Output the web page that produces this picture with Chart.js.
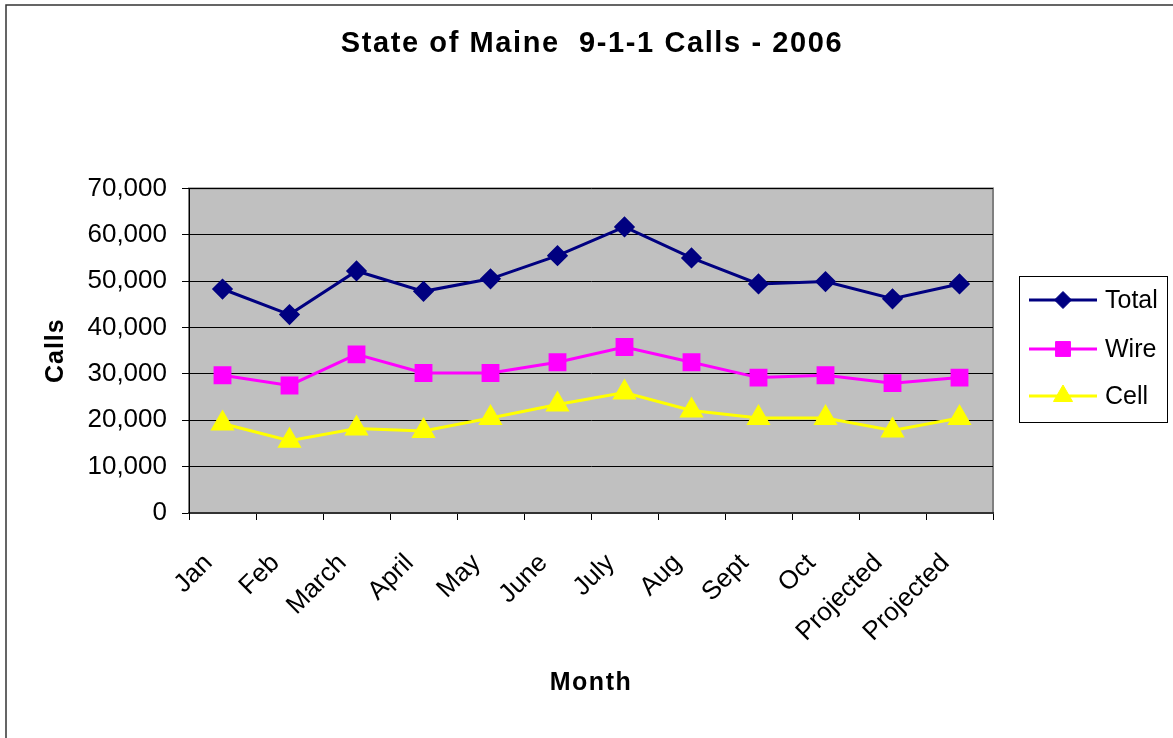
<!DOCTYPE html>
<html><head><meta charset="utf-8">
<script src="https://cdn.jsdelivr.net/npm/chart.js@4.4.1/dist/chart.umd.min.js"></script>
<style>html,body{margin:0;padding:0;background:#fff;overflow:hidden}</style>
</head><body>
<canvas id="c" width="1173" height="738"></canvas>
<script>
const months = ['Jan','Feb','March','April','May','June','July','Aug','Sept','Oct','Projected','Projected'];
const totalCalls = [48300, 42800, 52200, 47800, 50500, 55500, 61700, 55000, 49400, 49900, 46200, 49400];
const wireCalls  = [29700, 27500, 34200, 30200, 30200, 32500, 35800, 32500, 29200, 29700, 28000, 29200];
const cellCalls  = [19300, 15600, 18200, 17700, 20500, 23400, 26000, 22100, 20500, 20500, 17800, 20500];
const seriesNames = ['Total','Wire','Cell'];
const chartTitle = 'State of Maine  9-1-1 Calls - 2006';
const xTitle = 'Month';
const yTitle = 'Calls';

const FONT = '"Liberation Sans", Arial, Helvetica, sans-serif';

function spaced(fn, ctx, sp) {
  return function() { ctx.save(); try { ctx.letterSpacing = sp; } catch(e) {} const r = fn.apply(this, arguments); ctx.restore(); return r; };
}

const decorPlugin = {
  id: 'decor',
  beforeDraw(chart) {
    const ctx = chart.ctx, a = chart.chartArea;
    ctx.save();
    ctx.fillStyle = '#fff';
    ctx.fillRect(0, 0, chart.width, chart.height);
    ctx.strokeStyle = '#333';
    ctx.lineWidth = 1.5;
    ctx.beginPath();
    ctx.moveTo(6, chart.height); ctx.lineTo(6, 5); ctx.lineTo(chart.width, 5);
    ctx.stroke();
    ctx.fillStyle = '#C0C0C0';
    ctx.fillRect(a.left, a.top, a.right - a.left, a.bottom - a.top);
    ctx.strokeStyle = '#808080';
    ctx.lineWidth = 2;
    ctx.strokeRect(a.left, a.top, a.right - a.left, a.bottom - a.top);
    ctx.restore();
    if (chart.titleBlock && !chart.titleBlock._sp) {
      chart.titleBlock.draw = spaced(chart.titleBlock.draw, ctx, '1.6px');
      chart.titleBlock._sp = true;
    }
    const sx = chart.scales.x, sy = chart.scales.y;
    if (sx && !sx._sp) { sx.drawTitle = spaced(sx.drawTitle, ctx, '1.5px'); sx._sp = true; }
    if (sy && !sy._sp) { sy.drawTitle = spaced(sy.drawTitle, ctx, '1px'); sy._sp = true; }
  },
  afterDraw(chart) {
    const ctx = chart.ctx;
    const bx = 1019, by = 276, bw = 148, bh = 146;
    ctx.save();
    ctx.fillStyle = '#fff';
    ctx.fillRect(bx, by, bw, bh);
    ctx.strokeStyle = '#000';
    ctx.lineWidth = 1;
    ctx.strokeRect(bx + 0.5, by + 0.5, bw, bh);
    const rows = [300, 349, 396];
    chart.data.datasets.forEach((ds, i) => {
      const y = rows[i];
      ctx.strokeStyle = ds.borderColor;
      ctx.lineWidth = ds.borderWidth;
      ctx.beginPath(); ctx.moveTo(1029, y); ctx.lineTo(1097, y); ctx.stroke();
      ctx.fillStyle = ds.pointBackgroundColor;
      ctx.strokeStyle = ds.pointBorderColor;
      ctx.lineWidth = 1;
      if (Chart.helpers && Chart.helpers.drawPoint) {
        Chart.helpers.drawPoint(ctx, {pointStyle: ds.pointStyle, radius: ds.pointRadius, rotation: 0, borderWidth: 1}, 1063, y);
      }
      ctx.fillStyle = '#000';
      ctx.font = '25px ' + FONT;
      ctx.textBaseline = 'middle';
      ctx.textAlign = 'left';
      ctx.fillText(ds.label, 1105, y + 1);
    });
    ctx.restore();
  }
};

new Chart(document.getElementById('c'), {
  type: 'line',
  data: {
    labels: months,
    datasets: [
      { label: seriesNames[0], data: totalCalls, borderColor: '#000080', pointBackgroundColor: '#000080', pointBorderColor: '#000080', pointStyle: 'rectRot', pointRadius: 8.5, borderWidth: 3, tension: 0 },
      { label: seriesNames[1], data: wireCalls, borderColor: '#FF00FF', pointBackgroundColor: '#FF00FF', pointBorderColor: '#FF00FF', pointStyle: 'rect', pointRadius: 10.5, borderWidth: 3, tension: 0 },
      { label: seriesNames[2], data: cellCalls, borderColor: '#FFFF00', pointBackgroundColor: '#FFFF00', pointBorderColor: '#FFFF00', pointStyle: 'triangle', pointRadius: 11, borderWidth: 3, tension: 0 }
    ]
  },
  options: {
    responsive: false,
    animation: false,
    devicePixelRatio: 1,
    layout: { padding: { left: 37, right: 26, top: 0, bottom: 0 } },
    plugins: {
      legend: { display: false },
      tooltip: { enabled: false },
      title: {
        display: true, text: chartTitle, color: '#000',
        font: { family: FONT, size: 29, weight: 'bold', lineHeight: 1.2 },
        padding: { top: 27, bottom: 126.6 }
      }
    },
    scales: {
      x: {
        type: 'category',
        offset: true,
        grid: { display: true, drawOnChartArea: false, drawTicks: true, tickLength: 7, offset: true, color: '#000', lineWidth: 1 },
        border: { display: true, color: '#333', width: 2 },
        ticks: { color: '#000', font: { family: FONT, size: 26 }, minRotation: 45, maxRotation: 45, autoSkip: false, padding: 28, labelOffset: -14 },
        title: { display: true, text: xTitle, color: '#000', font: { family: FONT, size: 25, weight: 'bold', lineHeight: 1.2 }, padding: { top: 0, bottom: 40 } },
        afterFit(s) { s.height = 225; }
      },
      y: {
        min: 0, max: 70000,
        ticks: { stepSize: 10000, color: '#000', font: { family: FONT, size: 26 }, padding: 15,
          callback: v => Number(v).toLocaleString('en-US') },
        grid: { color: '#000', lineWidth: 1, tickLength: 7, drawTicks: true },
        border: { display: true, color: '#000', width: 1 },
        title: { display: true, text: yTitle, color: '#000', font: { family: FONT, size: 25, weight: 'bold', lineHeight: 1.2 }, padding: { top: 4, bottom: 0 } },
        afterFit(s) { s.width = 152; }
      },
      y2: {
        position: 'right',
        display: true,
        ticks: { display: false },
        grid: { display: false, drawTicks: false },
        border: { display: false },
        afterFit(s) { s.width = 154; }
      }
    }
  },
  plugins: [decorPlugin]
});
</script>
</body></html>
